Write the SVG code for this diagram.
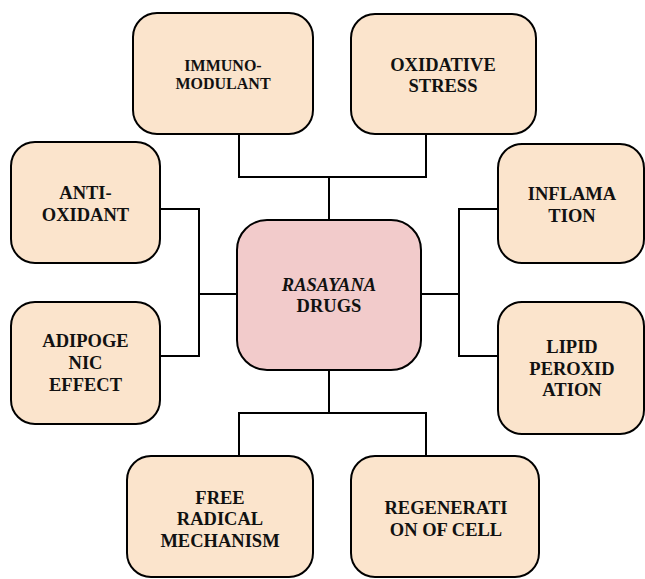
<svg xmlns="http://www.w3.org/2000/svg" width="645" height="579" viewBox="0 0 645 579">
<style>
.node rect{fill:#FBE4CC;stroke:#000;stroke-width:2}
.center rect{fill:#F2CBCB;stroke:#000;stroke-width:2}
text{font-family:"Liberation Serif","Times New Roman",serif;font-weight:bold;font-size:18.5px;fill:#111;text-anchor:middle}
.small{font-size:16px}
#connectors path{fill:none;stroke:#000;stroke-width:2}
</style>
<rect width="645" height="579" fill="#fff"/>
<g id="connectors">
<path d="M239,134 V177 H426 V134 M329,177 V220"/>
<path d="M329,370 V413 M239,456 V413 H426 V456"/>
<path d="M160,209 H199 V356 H160 M199,294 H237"/>
<path d="M498,209 H459 V356 H498 M459,294 H421"/>
</g>
<g id="center" class="center">
<rect x="237" y="220" width="184" height="150" rx="30"/>
<text x="329" y="291"><tspan font-style="italic">RASAYANA</tspan></text>
<text x="329" y="312">DRUGS</text>
</g>
<g id="immunomodulant" class="node">
<rect x="133" y="13" width="180" height="121" rx="24"/>
<text class="small" x="223" y="71">IMMUNO-</text>
<text class="small" x="223" y="89">MODULANT</text>
</g>
<g id="oxidative" class="node">
<rect x="351" y="14" width="185" height="120" rx="24"/>
<text x="443" y="71">OXIDATIVE</text>
<text x="443" y="92">STRESS</text>
</g>
<g id="antioxidant" class="node">
<rect x="11" y="142" width="149" height="121" rx="24"/>
<text x="85.5" y="199">ANTI-</text>
<text x="85.5" y="221">OXIDANT</text>
</g>
<g id="adipogenic" class="node">
<rect x="11" y="302" width="149" height="122" rx="24"/>
<text x="85.5" y="347">ADIPOGE</text>
<text x="85.5" y="369">NIC</text>
<text x="85.5" y="391">EFFECT</text>
</g>
<g id="inflamation" class="node">
<rect x="498" y="144" width="146" height="119" rx="24"/>
<text x="572" y="200">INFLAMA</text>
<text x="572" y="222">TION</text>
</g>
<g id="lipid" class="node">
<rect x="498" y="302" width="146" height="132" rx="24"/>
<text x="572" y="353">LIPID</text>
<text x="572" y="375">PEROXID</text>
<text x="572" y="396">ATION</text>
</g>
<g id="freeradical" class="node">
<rect x="127" y="456" width="186" height="121" rx="24"/>
<text x="220" y="504">FREE</text>
<text x="220" y="525">RADICAL</text>
<text x="220" y="547">MECHANISM</text>
</g>
<g id="regeneration" class="node">
<rect x="351" y="456" width="188" height="121" rx="24"/>
<text x="446" y="514">REGENERATI</text>
<text x="446" y="536">ON OF CELL</text>
</g>
</svg>
